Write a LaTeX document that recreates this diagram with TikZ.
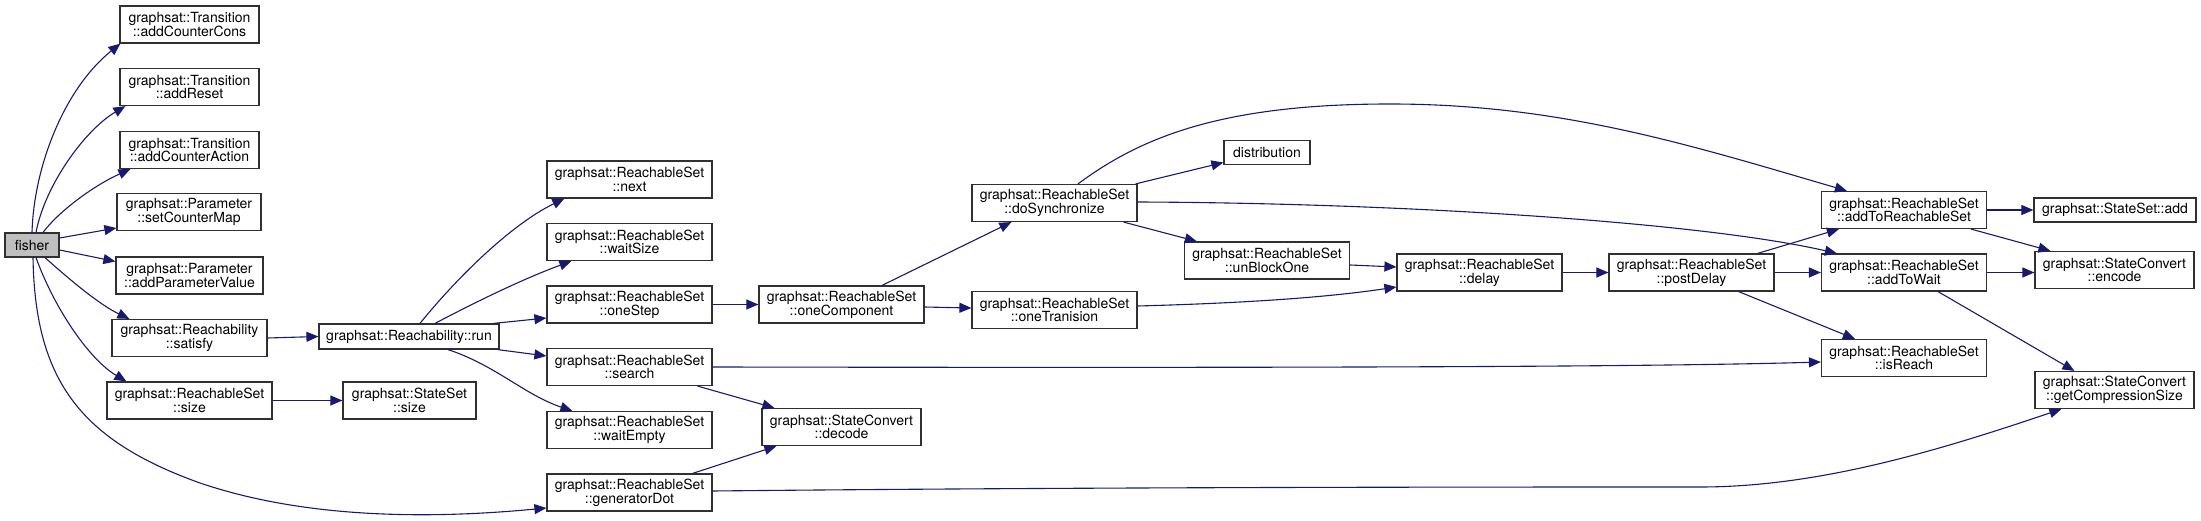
\documentclass[tikz,border=0pt]{standalone}
\usepackage{fontspec}
\setmainfont{TeX Gyre Heros}
\usetikzlibrary{arrows.meta,calc}
\definecolor{edgecol}{HTML}{191970}
\definecolor{boxcol}{HTML}{303030}
\definecolor{rootfill}{HTML}{BFBFBF}
\begin{document}
\begin{tikzpicture}[x=1pt,y=-1pt,
  box/.style={draw=boxcol,line width=1.2pt,fill=white,inner sep=0pt,align=center,
     minimum height=37pt,font=\fontsize{14}{13.6}\selectfont},
  rsbox/.style={box,minimum width=165pt},
  onebox/.style={box,minimum height=24pt},
  edge/.style={draw=edgecol,line width=1.1pt,-{Triangle[length=12pt,width=10pt]}}]
\useasboundingbox (0,0) rectangle (2201,521);
% nodes
\node[onebox,fill=rootfill,minimum width=54pt] (fisher) at (32,245) {fisher};
\node[box,minimum width=139pt] (acc) at (189.5,24.5) {graphsat::Transition\\::addCounterCons};
\node[box,minimum width=139pt] (ar) at (189.5,87) {graphsat::Transition\\::addReset};
\node[box,minimum width=139pt] (aca) at (189.5,150) {graphsat::Transition\\::addCounterAction};
\node[box,minimum width=144pt] (scm) at (189,212) {graphsat::Parameter\\::setCounterMap};
\node[box,minimum width=147pt] (apv) at (189.5,275.5) {graphsat::Parameter\\::addParameterValue};
\node[box,minimum width=155pt] (sat) at (189.5,338) {graphsat::Reachability\\::satisfy};
\node[rsbox] (rss) at (189.5,400.5) {graphsat::ReachableSet\\::size};
\node[box,minimum width=133pt] (sss) at (409.5,400.5) {graphsat::StateSet\\::size};
\node[onebox,minimum width=180pt,minimum height=25pt] (run) at (409,336.5) {graphsat::Reachability::run};
\node[rsbox] (next) at (629.5,179.5) {graphsat::ReachableSet\\::next};
\node[rsbox] (ws) at (629.5,242) {graphsat::ReachableSet\\::waitSize};
\node[rsbox] (os) at (629.5,304.5) {graphsat::ReachableSet\\::oneStep};
\node[rsbox] (search) at (629.5,367) {graphsat::ReachableSet\\::search};
\node[rsbox] (we) at (629.5,430) {graphsat::ReachableSet\\::waitEmpty};
\node[rsbox] (gd) at (629.5,492.5) {graphsat::ReachableSet\\::generatorDot};
\node[rsbox] (oc) at (841.5,304.5) {graphsat::ReachableSet\\::oneComponent};
\node[box,minimum width=159pt] (dec) at (841.5,427) {graphsat::StateConvert\\::decode};
\node[rsbox] (ds) at (1054.5,203) {graphsat::ReachableSet\\::doSynchronize};
\node[rsbox] (ot) at (1054.5,310) {graphsat::ReachableSet\\::oneTranision};
\node[onebox,minimum width=86pt] (dist) at (1267,152.5) {distribution};
\node[rsbox] (ubo) at (1267,260.5) {graphsat::ReachableSet\\::unBlockOne};
\node[rsbox] (delay) at (1479.5,272.5) {graphsat::ReachableSet\\::delay};
\node[rsbox] (pd) at (1691.5,272.5) {graphsat::ReachableSet\\::postDelay};
\node[rsbox] (atr) at (1904,210) {graphsat::ReachableSet\\::addToReachableSet};
\node[rsbox] (atw) at (1904,272.5) {graphsat::ReachableSet\\::addToWait};
\node[rsbox] (isr) at (1904,358) {graphsat::ReachableSet\\::isReach};
\node[onebox,minimum width=162pt] (ssa) at (2115,210) {graphsat::StateSet::add};
\node[box,minimum width=159pt] (enc) at (2114.5,270) {graphsat::StateConvert\\::encode};
\node[box,minimum width=159pt] (gcs) at (2114.5,390) {graphsat::StateConvert\\::getCompressionSize};
% edges from fisher
\draw[edge] (fisher.north) .. controls (34,165) and (65,88) .. ($(acc.south west)+(1,0)$);
\draw[edge] ($(fisher.north)+(4,0)$) .. controls (45,185) and (85,130) .. ($(ar.south west)+(6,0)$);
\draw[edge] ($(fisher.north)+(11,0)$) .. controls (60,210) and (95,185) .. ($(aca.south west)+(11,0)$);
\draw[edge] ($(fisher.east)+(0,-7)$) -- ($(scm.west)+(0,16)$);
\draw[edge] ($(fisher.east)+(0,5)$) -- ($(apv.west)+(0,-14)$);
\draw[edge] ($(fisher.south)+(13,0)$) .. controls (70,280) and (100,305) .. ($(sat.north west)+(18,0)$);
\draw[edge] ($(fisher.south)+(4,0)$) .. controls (55,310) and (90,360) .. ($(rss.north west)+(20,0)$);
\draw[edge] ($(fisher.south)+(1,0)$) .. controls (35,380) and (80,440) .. (200,483)
   .. controls (300,517) and (420,520) .. ($(gd.west)+(0,15.5)$);
% second level
\draw[edge] (sat.east) -- (run.west);
\draw[edge] (rss.east) -- (sss.west);
\draw[edge] ($(run.north)+(11,0)$) .. controls (455,280) and (510,225) .. ($(next.south west)+(18,0)$);
\draw[edge] ($(run.north)+(26,0)$) .. controls (470,305) and (520,280) .. ($(ws.south west)+(25,0)$);
\draw[edge] ($(run.north east)+(-6,0)$) -- ($(os.west)+(0,13.5)$);
\draw[edge] ($(run.south east)+(-2,0)$) -- ($(search.west)+(0,-11)$);
\draw[edge] ($(run.south)+(39,0)$) .. controls (495,365) and (525,395) .. ($(we.north west)+(26,0)$);
% third level
\draw[edge] (os.east) -- (oc.west);
\draw[edge] ($(search.south east)+(-15,0)$) -- ($(dec.north west)+(13,0)$);
\draw[edge] ($(gd.north east)+(-20,0)$) -- ($(dec.south west)+(15,0)$);
\draw[edge] (search.east) .. controls (1300,368) and (1650,367) .. ($(isr.west)+(0,4)$);
\draw[edge] ($(gd.east)+(0,-1.5)$) .. controls (1100,487) and (1500,487) .. (1700,487)
   .. controls (1820,487) and (1940,450) .. ($(gcs.south west)+(27,0)$);
\draw[edge] ($(oc.north)+(40.5,0)$) -- ($(ds.south west)+(40,0)$);
\draw[edge] ($(oc.east)+(0,2.5)$) -- ($(ot.west)+(0,-2)$);
% doSynchronize
\draw[edge] ($(ds.north east)+(-2,0)$) -- ($(dist.west)+(0,10)$);
\draw[edge] ($(ds.south east)+(-14,0)$) -- ($(ubo.north west)+(13,0)$);
\draw[edge] ($(ds.east)+(0,-1)$) .. controls (1400,203) and (1700,222) .. ($(atw.north west)+(16,0)$);
\draw[edge] ($(ds.north)+(23.5,0)$) .. controls (1140,138) and (1220,104) .. (1390,104)
   .. controls (1560,104) and (1690,145) .. ($(atr.north west)+(26,0)$);
\draw[edge] ($(ubo.east)+(0,4.5)$) -- ($(delay.west)+(0,-5.5)$);
\draw[edge] ($(ot.east)+(0,-4)$) .. controls (1250,303) and (1330,297) .. ($(delay.west)+(0,14.5)$);
\draw[edge] (delay.east) -- (pd.west);
% postDelay
\draw[edge] ($(pd.north east)+(-17,0)$) -- ($(atr.south west)+(18,0)$);
\draw[edge] (pd.east) -- (atw.west);
\draw[edge] ($(pd.south east)+(-36,0)$) -- ($(isr.north west)+(34,0)$);
% right column
\draw[edge] (atr.east) -- (ssa.west);
\draw[edge] ($(atr.south east)+(-16,0)$) -- ($(enc.north west)+(16,0)$);
\draw[edge] (atw.east) -- ($(enc.west)+(0,2.5)$);
\draw[edge] ($(atw.south)+(34,0)$) -- ($(gcs.north west)+(40,0)$);
\end{tikzpicture}
\end{document}
